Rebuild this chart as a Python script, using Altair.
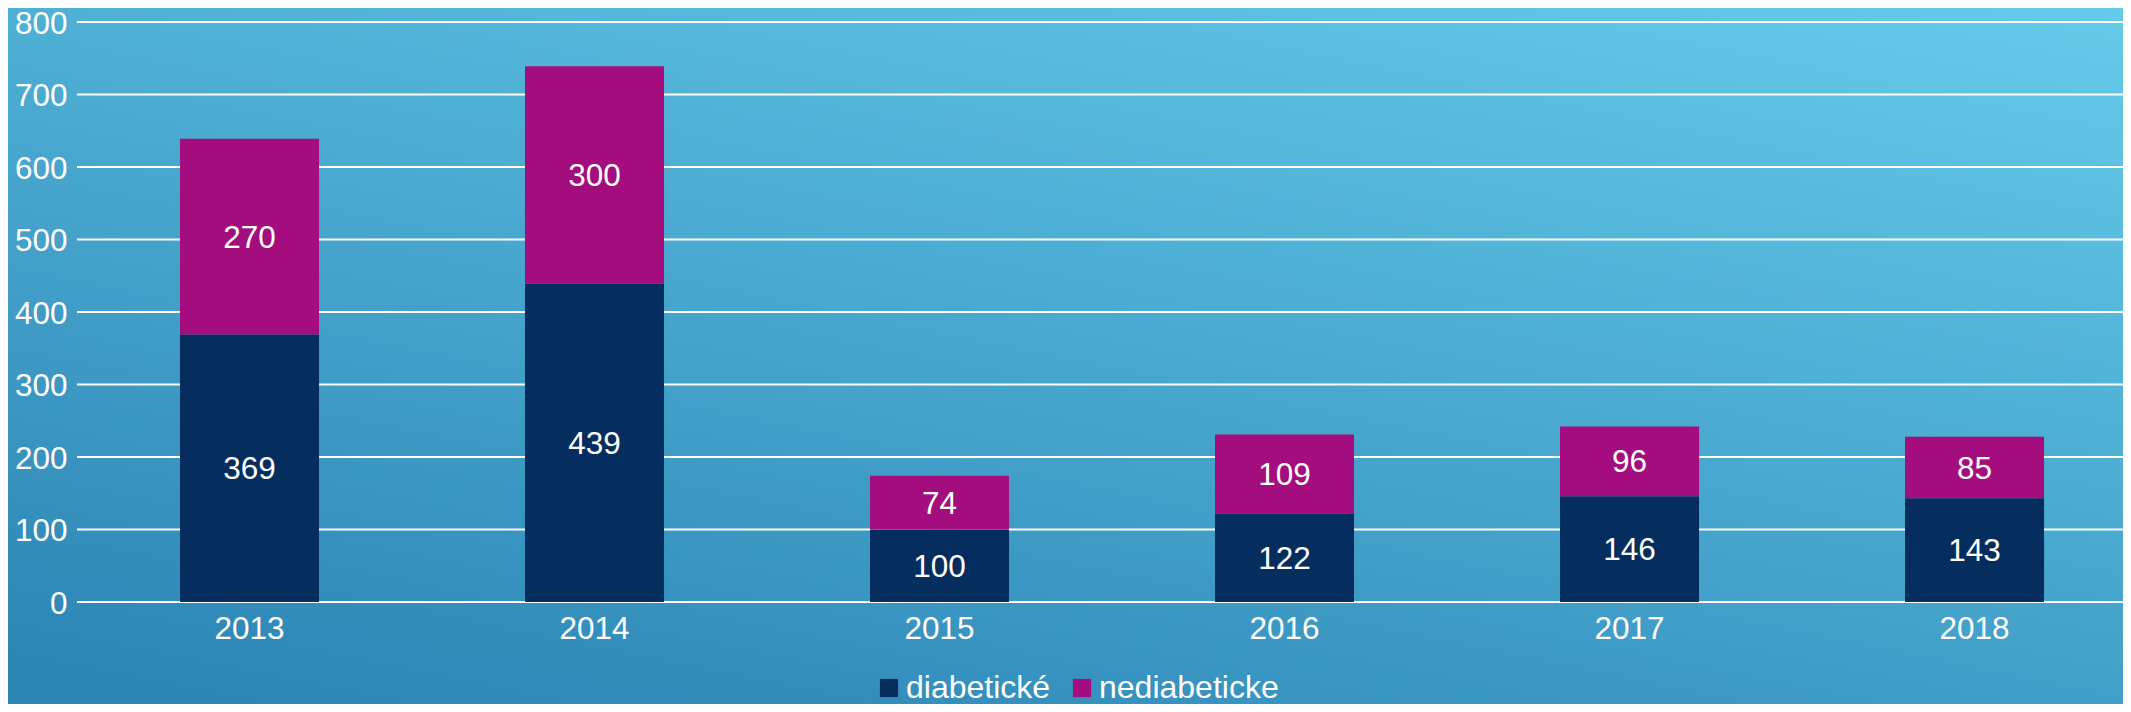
import altair as alt
import pandas as pd

years = ["2013", "2014", "2015", "2016", "2017", "2018"]
diabeticke = [369, 439, 100, 122, 146, 143]
nediabeticke = [270, 300, 74, 109, 96, 85]
series_names = ["diabetické", "nediabeticke"]
series_colors = ["#052E5F", "#A30D7E"]
grid_values = [0, 100, 200, 300, 400, 500, 600, 700, 800]

rows = []
for i, y in enumerate(years):
    rows.append({"year": y, "series": series_names[0], "value": diabeticke[i], "ord": 0})
    rows.append({"year": y, "series": series_names[1], "value": nediabeticke[i], "ord": 1})
df = pd.DataFrame(rows)
grid_df = pd.DataFrame({"g": grid_values})
bg_df = pd.DataFrame({"a": [0]})

FONT = "Liberation Sans"
W, H = 2046, 580

xscale = alt.Scale(paddingInner=0.597, paddingOuter=0.2637, align=0.566)
xaxis = alt.Axis(title=None, labelAngle=0, labelColor="white", labelFontSize=31.5,
                 labelFont=FONT, ticks=False, tickSize=0, domain=False, grid=False,
                 labelPadding=11.5, zindex=1)
yscale = alt.Scale(domain=[0, 800], nice=False)
yaxis = alt.Axis(title=None, values=grid_values, labelColor="white", labelFontSize=31.5,
                 labelFont=FONT, ticks=False, tickSize=0, domain=False, grid=False,
                 labelPadding=10, labelOffset=2, zindex=1)

gradient = alt.LinearGradient(
    gradient="linear",
    stops=[alt.GradientStop(color="#2A82B3", offset=0),
           alt.GradientStop(color="#66CCEA", offset=1)],
    x1=0.143, y1=1.087, x2=0.857, y2=-0.087,
)

bg = alt.Chart(bg_df).mark_rect(fill=gradient, strokeWidth=0).encode(
    x=alt.value(-77), x2=alt.value(2131 - 77),
    y=alt.value(-22), y2=alt.value(712 - 22),
)

grid = alt.Chart(grid_df).mark_rule(color="white", strokeWidth=2).encode(
    y=alt.Y("g:Q", scale=yscale, axis=yaxis),
    x=alt.value(0), x2=alt.value(2131 - 77),
)

bars = alt.Chart(df).mark_bar().encode(
    x=alt.X("year:N", scale=xscale, axis=xaxis, sort=years),
    y=alt.Y("value:Q", stack="zero", scale=yscale, axis=yaxis),
    color=alt.Color("series:N",
                    scale=alt.Scale(domain=series_names, range=series_colors),
                    legend=alt.Legend(title=None, orient="none", direction="horizontal",
                                      legendX=796, legendY=650, labelColor="white",
                                      labelFont=FONT, labelFontSize=32, symbolType="square",
                                      symbolSize=330, symbolStrokeWidth=0, labelOffset=1,
                                      columnPadding=15, padding=0, symbolOpacity=1,
                                      labelLimit=500)),
    order=alt.Order("ord:Q"),
)

labels = alt.Chart(df).transform_stack(
    stack="value", groupby=["year"], as_=["v0", "v1"],
    sort=[alt.SortField("ord", order="ascending")],
).transform_calculate(
    mid="(datum.v0 + datum.v1) / 2"
).mark_text(color="white", fontSize=31.5, font=FONT, baseline="middle", align="center",
            dy=2).encode(
    x=alt.X("year:N", scale=xscale, axis=xaxis, sort=years),
    y=alt.Y("mid:Q", scale=yscale, axis=yaxis),
    text=alt.Text("value:Q"),
)

chart = alt.layer(bg, grid, bars, labels).properties(
    width=W, height=H,
    autosize=alt.AutoSizeParams(type="none"),
    padding={"left": 69, "top": 14, "right": 0, "bottom": 102},
    background="#45A5CE",
).configure_view(strokeWidth=0)

chart.save("out.html", embed_options={"renderer": "svg", "actions": False})
